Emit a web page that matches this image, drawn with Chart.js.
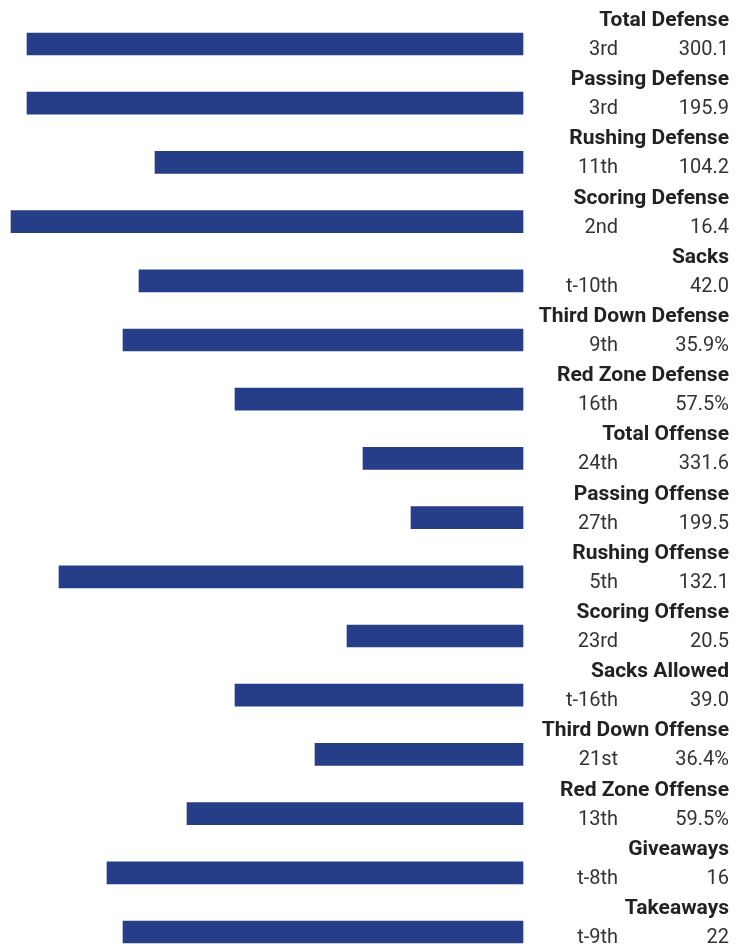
<!DOCTYPE html>
<html>
<head>
<meta charset="utf-8">
<script src="https://cdn.jsdelivr.net/npm/chart.js@4/dist/chart.umd.min.js"></script>
<style>
  html, body { margin: 0; padding: 0; background: #fff; }
  #wrap { width: 746px; height: 948px; position: relative; }
</style>
</head>
<body>
<div id="wrap"><canvas id="chart"></canvas></div>
<script>
// categories
const categories = ['Total Defense', 'Passing Defense', 'Rushing Defense', 'Scoring Defense', 'Sacks',
    'Third Down Defense', 'Red Zone Defense', 'Total Offense', 'Passing Offense', 'Rushing Offense',
    'Scoring Offense', 'Sacks Allowed', 'Third Down Offense', 'Red Zone Offense', 'Giveaways', 'Takeaways'];

// league rank text
const ranks = ['3rd', '3rd', '11th', '2nd', 't-10th', '9th', '16th', '24th', '27th', '5th',
    '23rd', 't-16th', '21st', '13th', 't-8th', 't-9th'];

// stat values
const statValues = ['300.1', '195.9', '104.2', '16.4', '42.0', '35.9%', '57.5%', '331.6', '199.5', '132.1',
    '20.5', '39.0', '36.4%', '59.5%', '16', '22'];

// bar lengths
const barValues = [31, 31, 23, 32, 24, 25, 18, 10, 7, 29, 11, 18, 13, 21, 26, 25];

const barColor = '#263e87';

// 오른쪽 라벨 그리기
const sideLabels = {
    id: 'sideLabels',
    afterDraw(chart) {
        const ctx = chart.ctx;
        const yScale = chart.scales.y;
        ctx.save();
        ctx.textAlign = 'right';
        ctx.textBaseline = 'alphabetic';
        categories.forEach((name, i) => {
            const y = yScale.getPixelForValue(i);
            ctx.fillStyle = '#222';
            ctx.font = 'bold 21px Roboto';
            ctx.fillText(name, 729, y - 18);
            ctx.fillStyle = '#333';
            ctx.font = '20px Roboto';
            ctx.fillText(ranks[i], 618, y + 11);
            ctx.fillText(statValues[i], 729, y + 11);
        });
        ctx.restore();
    }
};

const chart = new Chart(document.getElementById('chart'), {
    type: 'bar',
    data: {
        labels: categories,
        datasets: [{
            data: barValues,
            backgroundColor: barColor,
            barThickness: 22,
            borderWidth: 0,
            clip: false
        }]
    },
    options: {
        indexAxis: 'y',
        responsive: true,
        maintainAspectRatio: false,
        animation: false,
        layout: {
            padding: { left: 0, right: 223, top: 44, bottom: 16 }
        },
        scales: {
            x: {
                display: false,
                reverse: true,
                min: 0,
                max: 523 / 16
            },
            y: {
                display: false,
                offset: false
            }
        },
        plugins: {
            legend: { display: false },
            tooltip: { enabled: false }
        }
    },
    plugins: [sideLabels]
});
</script>
</body>
</html>
